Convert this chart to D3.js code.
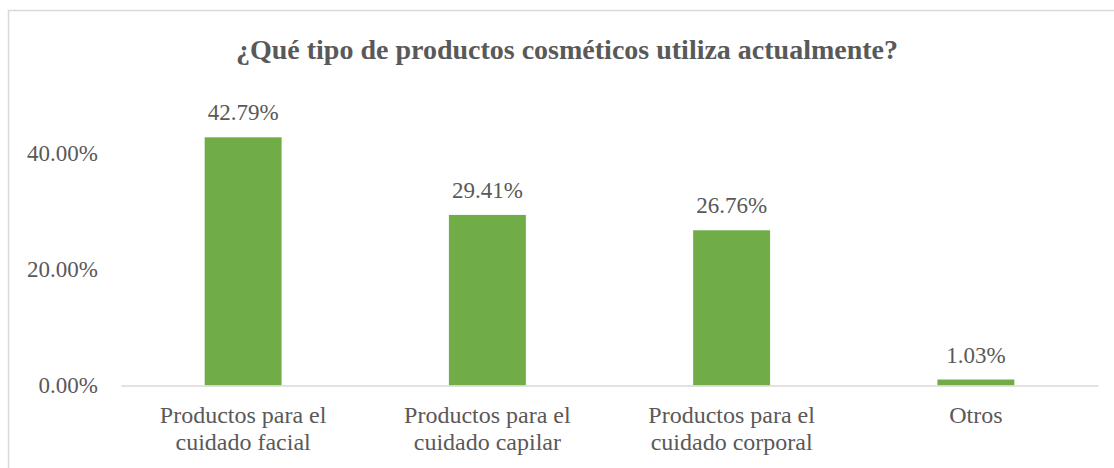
<!DOCTYPE html>
<html>
<head>
<meta charset="utf-8">
<script src="https://cdn.jsdelivr.net/npm/d3@7"></script>
<style>
  html, body { margin: 0; padding: 0; background: #fff; }
  svg { display: block; font-family: "Liberation Serif", "Times New Roman", serif; }
</style>
</head>
<body>
<svg id="chart" width="1114" height="468"></svg>
<script>
// Survey results: type of cosmetic products currently used
const categories = [
  ["Productos para el", "cuidado facial"],
  ["Productos para el", "cuidado capilar"],
  ["Productos para el", "cuidado corporal"],
  ["Otros"]
];
const values = [42.79, 29.41, 26.76, 1.03];
const yTicks = [0, 20, 40];
const title = "¿Qué tipo de productos cosméticos utiliza actualmente?";

const textColor = "#595959";
const barColor = "#70AD47";
const lineColor = "#D9D9D9";
const serif = "Liberation Serif, Times New Roman, serif";

const svg = d3.select("#chart");

// chart frame
svg.append("rect")
  .attr("x", 8.5).attr("y", 10.5)
  .attr("width", 1200).attr("height", 500)
  .attr("fill", "#fff")
  .attr("stroke", lineColor).attr("stroke-width", 1.5);

const plot = { left: 121, right: 1098, top: 95.5, bottom: 385.5 };

const x = d3.scaleBand()
  .domain(d3.range(categories.length))
  .range([plot.left, plot.right])
  .paddingInner(0.685)
  .paddingOuter(0.3425);

const y = d3.scaleLinear()
  .domain([0, 50])
  .range([plot.bottom, plot.top]);

// title
svg.append("text")
  .attr("x", 567).attr("y", 59)
  .attr("text-anchor", "middle")
  .attr("fill", textColor)
  .attr("font-family", serif)
  .attr("font-weight", "bold")
  .attr("font-size", 28)
  .text(title);

// y axis labels (no axis line)
const yAxis = d3.axisLeft(y)
  .tickValues(yTicks)
  .tickSize(0)
  .tickPadding(0)
  .tickFormat(d => d3.format(".2f")(d) + "%");

const yg = svg.append("g")
  .attr("transform", `translate(${98},0)`)
  .call(yAxis);
yg.attr("font-family", serif);
yg.select(".domain").remove();
yg.selectAll("text")
  .attr("fill", textColor)
  .attr("font-size", 23)
  .attr("font-family", serif);

// bars
svg.append("g").selectAll("rect")
  .data(values)
  .join("rect")
  .attr("x", (d, i) => x(i))
  .attr("width", x.bandwidth())
  .attr("y", d => y(d))
  .attr("height", d => y(0) - y(d))
  .attr("fill", barColor);

// baseline
const xAxis = d3.axisBottom(x).tickSize(0).tickFormat("");
const xg = svg.append("g")
  .attr("transform", `translate(0,${y(0)})`)
  .call(xAxis);
xg.select(".domain")
  .attr("stroke", lineColor)
  .attr("stroke-width", 1.5);

// category labels
const catLabels = svg.append("g").selectAll("text")
  .data(categories)
  .join("text")
  .attr("x", (d, i) => x(i) + x.bandwidth() / 2)
  .attr("y", 423)
  .attr("text-anchor", "middle")
  .attr("fill", textColor)
  .attr("font-family", serif)
  .attr("font-size", 24);
catLabels.selectAll("tspan")
  .data(d => d)
  .join("tspan")
  .attr("x", function () { return this.parentNode.getAttribute("x"); })
  .attr("dy", (d, i) => i === 0 ? 0 : 27)
  .text(d => d);

// value labels
svg.append("g").selectAll("text")
  .data(values)
  .join("text")
  .attr("x", (d, i) => x(i) + x.bandwidth() / 2)
  .attr("y", d => y(d) - 17)
  .attr("text-anchor", "middle")
  .attr("fill", textColor)
  .attr("font-family", serif)
  .attr("font-size", 23)
  .text(d => d3.format(".2f")(d) + "%");
</script>
</body>
</html>
